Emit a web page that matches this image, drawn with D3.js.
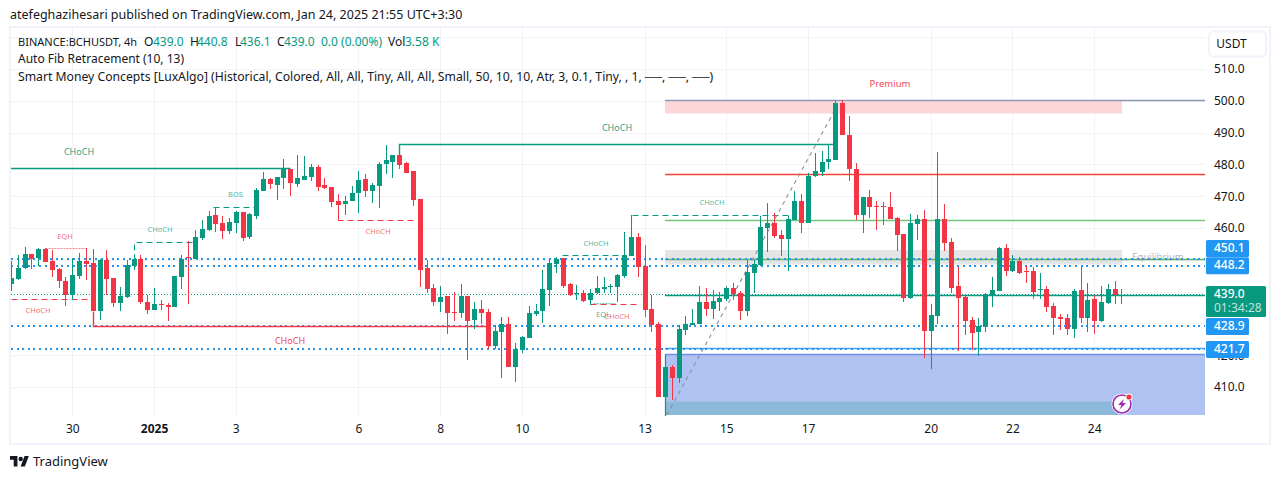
<!DOCTYPE html>
<html><head><meta charset="utf-8">
<script src="https://cdn.jsdelivr.net/npm/d3@7/dist/d3.min.js"></script>
<style>html,body{margin:0;padding:0;background:#fff;overflow:hidden}svg{display:block}
text{font-family:"Noto Sans",sans-serif}</style></head><body>
<script>
const openP=[442.3,443.9,447.3,451.7,450.5,453.3,449.5,447.0,443.3,438.9,444.8,449.5,448.9,433.8,449.9,444.2,436.3,438.2,448.0,450.2,436.7,434.1,436.0,435.7,435.1,444.5,450.8,450.2,456.8,459.3,464.0,461.5,459.0,461.5,464.9,457.1,463.7,471.5,475.3,473.4,475.6,478.4,473.7,475.2,475.9,479.1,473.4,472.8,468.4,467.4,468.4,470.9,475.3,471.5,473.1,480.0,480.9,482.8,480.3,477.8,469.0,447.3,441.1,436.7,438.5,433.5,433.2,438.5,431.0,434.5,433.5,422.8,427.2,429.8,416.2,421.6,425.4,432.9,433.8,440.4,448.6,450.5,442.3,439.2,439.5,437.3,439.5,440.7,441.3,441.4,444.8,451.1,457.1,448.0,434.5,429.7,406.8,416.2,412.8,427.9,429.4,429.7,436.7,434.5,436.7,437.6,441.1,439.5,433.8,445.8,448.3,459.9,461.5,457.7,456.4,462.4,468.4,461.5,476.2,477.5,480.6,481.3,499.2,489.4,478.7,464.0,469.6,466.8,466.8,466.5,463.0,458.0,437.9,461.2,462.7,427.6,432.3,462.7,455.5,441.7,438.2,431.0,427.2,428.8,438.9,440.1,453.6,446.4,449.5,446.4,446.4,440.4,440.7,435.4,431.9,431.6,428.2,440.4,431.6,437.6,430.7,436.3,440.7,439.0];
const highP=[449.5,451.4,453.9,451.7,453.6,453.8,453.0,447.3,444.5,450.5,452.0,453.6,453.3,450.2,453.0,444.2,441.4,449.9,450.5,451.4,438.9,441.1,437.3,436.3,444.8,451.4,455.8,459.3,462.4,465.2,466.5,463.7,463.0,465.2,464.9,464.6,472.5,477.5,475.6,475.9,481.6,478.7,483.1,482.5,480.0,479.7,475.6,472.8,470.6,470.0,473.1,477.8,476.9,474.3,480.6,486.0,483.1,486.3,480.9,477.8,469.0,449.9,442.3,441.7,438.5,439.8,442.3,438.5,436.7,437.3,434.5,429.4,432.0,432.0,423.8,426.0,435.4,436.0,446.7,450.5,450.8,450.5,442.6,442.0,440.4,440.7,444.8,444.5,442.3,445.5,458.6,464.0,458.3,454.6,438.9,430.4,416.2,416.9,429.4,432.3,434.5,441.7,441.1,440.4,439.8,441.7,442.6,440.1,449.8,449.8,463.7,467.8,464.6,459.3,463.7,471.5,470.6,477.2,483.5,484.1,486.3,499.8,500.4,495.1,480.3,469.9,472.1,468.4,468.1,471.2,463.4,458.0,464.3,464.0,465.6,436.0,483.8,467.4,456.8,447.7,438.9,431.9,431.6,439.5,444.5,453.9,454.9,451.4,450.8,448.0,447.7,445.8,441.7,436.3,432.9,432.9,440.7,447.7,442.6,438.9,441.7,442.3,443.3,440.8];
const lowP=[440.2,443.6,447.0,447.1,448.0,449.2,444.5,441.1,435.4,437.5,443.9,443.6,433.8,431.0,439.0,435.1,433.8,437.9,446.7,436.0,432.9,434.1,434.1,430.7,435.1,440.7,436.0,450.2,456.1,459.0,458.6,456.4,458.0,458.3,455.8,456.4,462.7,471.5,472.2,468.7,472.2,470.0,472.8,475.0,474.7,471.5,472.2,466.5,462.1,464.0,468.4,464.6,469.6,467.8,466.2,476.9,475.6,478.7,477.2,466.8,441.4,439.5,435.4,433.5,426.6,430.7,431.6,418.4,428.2,429.8,421.9,421.9,412.8,416.2,411.5,420.6,425.4,432.3,430.1,435.4,445.8,441.1,438.5,437.3,436.7,435.7,439.2,439.5,439.5,436.7,444.2,451.1,444.5,432.0,427.2,406.8,406.8,405.9,411.2,426.3,429.4,429.7,432.3,431.3,433.8,437.0,437.3,431.0,432.3,439.5,448.0,452.4,456.8,451.1,446.4,462.4,458.3,461.5,475.9,476.5,478.4,481.3,489.1,474.7,462.4,458.3,463.0,459.3,460.8,462.7,452.7,436.7,437.6,456.1,419.1,415.6,429.8,452.7,439.5,421.3,426.3,421.6,419.7,427.2,435.1,440.1,444.8,446.1,445.5,442.6,437.6,437.6,433.5,426.3,427.9,426.3,425.4,430.1,427.2,426.6,430.4,436.0,436.0,436.1];
const closeP=[444.2,447.3,451.7,450.1,453.3,449.2,446.7,443.3,439.0,445.1,449.5,448.6,433.8,449.9,443.9,436.3,438.5,448.3,450.2,436.7,434.1,436.0,435.7,435.2,444.8,450.2,450.5,457.1,459.6,463.7,461.2,459.0,461.8,464.9,456.8,464.3,471.8,475.3,473.7,475.9,478.7,474.0,475.6,476.2,479.1,472.8,472.5,468.1,467.1,468.4,470.9,475.0,471.5,473.4,480.0,481.3,483.1,479.7,477.2,468.7,446.7,440.7,436.7,438.2,433.2,433.2,438.5,430.7,434.5,433.2,422.8,427.6,429.8,416.2,421.9,425.7,433.2,433.8,440.7,448.9,450.2,441.7,438.9,439.5,437.0,439.5,441.1,441.4,441.7,445.1,451.4,457.1,447.7,434.2,429.4,406.8,416.2,412.8,428.2,429.7,430.1,436.7,434.5,437.0,437.9,441.1,439.2,433.8,446.1,448.6,460.2,461.5,457.4,456.4,462.7,468.4,461.5,476.5,477.8,480.9,481.6,499.2,489.1,478.4,464.0,469.6,466.5,466.5,466.5,462.7,457.7,437.9,461.5,462.7,427.6,432.6,462.7,455.2,441.1,437.9,430.7,426.9,429.2,439.2,440.4,453.6,446.4,449.5,445.7,446.1,439.8,440.7,435.1,431.6,431.3,428.2,440.1,431.6,437.3,430.7,436.7,440.7,438.9,439.0];

const gridLevels=[520,510,500,490,480,470,460,450,440,430,420,410];
const priceTicks=[510,500,490,480,470,460,420,410];
const dayTickIdx=[9,21,33,51,63,75,93,105,117,135,147,159];
const dayTickLabels=["30","2025","3","6","8","10","13","15","17","20","22","24"];

// overlays, in [candle index, price]
const solidGreen=[[[-3,478.8],[41,478.8]],[[57,483],[57,486.3],[121,486.3]]];
const dashGreen=[[[18,450],[18,455.5],[26.7,455.5]],[[29.6,466.5],[35.7,466.5]],[[80.9,451.4],[89.8,451.4]],[[91,458],[91,464.1],[114.1,464.1]]];
const dashRed=[[[-3,437.6],[12,437.6]],[[48,466],[48,462.5],[59.6,462.5]],[[85,436],[92.3,436]]];
const solidRed=[[[12,434],[12,429.1],[69.9,429.1]]];
const eqhDots=[[5,453.8],[11.2,453.8]];
const eqlDots=[[85.4,436.4],[88.7,436.4]];
const fibLine=[[96.26,401.2],[121.2,498.1]];
const blueDotLevels=[450.1,448.2,429.2,421.8];
const currentPrice=439.0;
const fibLevels=[
 {p:500.25,c:"#8f97b4",w:1.3},{p:476.9,c:"#f44336",w:1.3},{p:462.4,c:"#72c57a",w:1.3},
 {p:450.4,c:"#5fb85f",w:1.3},{p:438.8,c:"#089981",w:1.4},{p:422.2,c:"#42a5f5",w:1.3},{p:420.3,c:"#6f90e4",w:1.3}];
const zones=[
 {i0:96,i1:163.1,p0:500.25,p1:496,c:"#fbd7da"},
 {i0:96,i1:163.1,p0:453.1,p1:448.5,c:"#e4e5e7"},
 {i0:96,i1:176,p0:420.3,p1:401.2,c:"#b0c2f1"},
 {i0:96,i1:163.1,p0:405.4,p1:401.2,c:"#8cb8d9"}];
const boxLabels=[
 {t:"450.1",p:248.5},{t:"448.2",p:265.7},{t:"428.9",p:326.4},{t:"421.7",p:349.4}];
const smallTexts=[
 {t:"Premium",x:890,y:84,c:"#f23645",s:9.5,o:.95},
 {t:"CHoCH",x:617,y:129,c:"#089981",s:9,o:.95},
 {t:"CHoCH",x:79,y:152.5,c:"#089981",s:9,o:.95},
 {t:"CHoCH",x:290,y:341.5,c:"#f23645",s:9,o:.95},
 {t:"CHoCH",x:712,y:202.5,c:"#089981",s:7.5,o:.75},
 {t:"CHoCH",x:596,y:243.5,c:"#089981",s:7.5,o:.75},
 {t:"CHoCH",x:160,y:229.5,c:"#089981",s:7.5,o:.75},
 {t:"BOS",x:235.5,y:194.5,c:"#089981",s:7.5,o:.75},
 {t:"EQH",x:65,y:236.5,c:"#f23645",s:7.5,o:.75},
 {t:"CHoCH",x:38,y:310.5,c:"#f23645",s:7.5,o:.75},
 {t:"CHoCH",x:378,y:231.5,c:"#f23645",s:7.5,o:.75},
 {t:"EQL",x:603,y:314.5,c:"#089981",s:7.5,o:.75},
 {t:"CHoCH",x:617,y:316.5,c:"#f23645",s:7.5,o:.75},
 {t:"Equilibrium",x:1158,y:257.5,c:"#787b86",s:9.5,o:.6}];

const up="#089981",dn="#f23645",blue="#2196f3",ink="#131722",grid="#f2f3f6",frame="#f0f3fa";
const W=1281,H=479,L=11,R=1205,T=28,B=416;
const svg=d3.select("body").append("svg").attr("width",W).attr("height",H);
const x=d3.scaleLinear().domain([0,163]).range([11,1121.4]);
const y=d3.scaleLinear().domain([410,510]).range([387,69]);
const px=a=>Math.round(x(a)), py=a=>Math.round(y(a))+.5;
const pathOf=d3.line().x(d=>Math.round(x(d[0]))+.5).y(d=>Math.round(y(d[1]))+.5);

svg.append("clipPath").attr("id","plot").append("rect").attr("x",L).attr("y",T).attr("width",R-L).attr("height",B-T);
svg.append("rect").attr("x",10).attr("y",27).attr("width",1260).attr("height",417).attr("fill","none").attr("stroke",frame).attr("stroke-width",2);

const g=svg.append("g").attr("clip-path","url(#plot)");
// grid
g.append("g").selectAll("line").data(gridLevels).join("line")
 .attr("x1",L).attr("x2",R).attr("y1",d=>py(d)).attr("y2",d=>py(d)).attr("stroke",grid).attr("stroke-width",1);
g.append("g").selectAll("line").data(dayTickIdx).join("line")
 .attr("x1",d=>px(d)+.5).attr("x2",d=>px(d)+.5).attr("y1",T).attr("y2",B).attr("stroke",grid).attr("stroke-width",1);
// zones
g.append("g").selectAll("rect").data(zones).join("rect")
 .attr("x",d=>x(d.i0)).attr("width",d=>x(d.i1)-x(d.i0)).attr("y",d=>y(d.p0)).attr("height",d=>y(d.p1)-y(d.p0)).attr("fill",d=>d.c);
// fib levels
g.append("g").selectAll("line").data(fibLevels).join("line")
 .attr("x1",x(96)).attr("x2",R).attr("y1",d=>py(d.p)).attr("y2",d=>py(d.p)).attr("stroke",d=>d.c).attr("stroke-width",d=>d.w);
g.append("line").attr("x1",px(96)+.5).attr("x2",px(96)+.5).attr("y1",y(420.3)).attr("y2",B).attr("stroke",up).attr("stroke-width",1.2);
// dotted levels
g.append("g").selectAll("line").data(blueDotLevels).join("line")
 .attr("x1",L).attr("x2",R).attr("y1",d=>Math.round(y(d))).attr("y2",d=>Math.round(y(d))).attr("stroke",blue).attr("stroke-width",2).attr("stroke-dasharray","2 3.6").attr("shape-rendering","crispEdges");
g.append("line").attr("x1",L).attr("x2",R).attr("y1",py(currentPrice)-1).attr("y2",py(currentPrice)-1).attr("stroke",up).attr("stroke-width",1).attr("stroke-dasharray","1 2").attr("shape-rendering","crispEdges");
// structure
const draw=(arr,c,dash,w,op)=>g.append("g").selectAll("path").data(arr).join("path").attr("d",pathOf).attr("fill","none").attr("stroke",c).attr("stroke-width",w||1).attr("stroke-dasharray",dash||null).attr("stroke-opacity",op||1);
draw(solidGreen,up,null,1.4);draw(solidRed,dn,null,1.4);
draw(dashGreen,up,"6 4",1.1);draw(dashRed,dn,"6 4",1.1);
draw([eqhDots],dn,"2 1",1,.6);draw([eqlDots],up,"2 1",1,.6);
g.append("path").attr("d",d3.line().x(d=>x(d[0])).y(d=>y(d[1]))(fibLine)).attr("fill","none").attr("stroke","#8a8f99").attr("stroke-width",1.1).attr("stroke-dasharray","4 4");
// candles
const idx=d3.range(openP.length);
const cg=g.append("g").attr("shape-rendering","crispEdges");
cg.selectAll("line").data(idx).join("line")
 .attr("x1",i=>px(i)+.5).attr("x2",i=>px(i)+.5).attr("y1",i=>y(highP[i])).attr("y2",i=>y(lowP[i]))
 .attr("stroke",i=>closeP[i]>=openP[i]?up:dn).attr("stroke-width",1);
cg.selectAll("rect").data(idx).join("rect")
 .attr("x",i=>px(i)-2).attr("width",5)
 .attr("y",i=>y(Math.max(openP[i],closeP[i]))).attr("height",i=>Math.max(1,Math.abs(y(openP[i])-y(closeP[i]))))
 .attr("fill",i=>closeP[i]>=openP[i]?up:dn);
// in-chart texts
g.append("g").selectAll("text").data(smallTexts).join("text")
 .attr("x",d=>d.x).attr("y",d=>d.y).attr("text-anchor","middle").attr("dominant-baseline","middle")
 .attr("font-size",d=>d.s).attr("fill",d=>d.c).attr("fill-opacity",d=>d.o).text(d=>d.t);

// axes
const ay=d3.axisRight(y).tickValues(priceTicks).tickSize(0).tickPadding(0).tickFormat(d3.format(".1f"));
const gy=svg.append("g").attr("transform","translate(1214,0)").call(ay);
gy.select(".domain").remove();
gy.selectAll("text").attr("font-size",12).attr("fill",ink).attr("font-family",'"Noto Sans",sans-serif');
const ax=d3.axisBottom(x).tickValues(dayTickIdx).tickSize(0).tickPadding(0).tickFormat((d,i)=>dayTickLabels[i]);
const gx=svg.append("g").attr("transform","translate(0,424.5)").call(ax);
gx.select(".domain").remove();
gx.selectAll("text").attr("font-size",12).attr("fill",ink).attr("font-family",'"Noto Sans",sans-serif')
 .attr("font-weight",d=>d===21?700:400);

// price labels
boxLabels.forEach(d=>{
 svg.append("rect").attr("x",1206).attr("y",d.p-8.5).attr("width",43).attr("height",17).attr("rx",1.5).attr("fill",blue);
 svg.append("text").attr("x",1214).attr("y",d.p).attr("dominant-baseline","middle").attr("font-size",12).attr("font-weight",500).attr("fill","#fff").text(d.t);
});
svg.append("rect").attr("x",1206).attr("y",286).attr("width",60).attr("height",31).attr("rx",1.5).attr("fill",up);
svg.append("text").attr("x",1214).attr("y",295).attr("dominant-baseline","middle").attr("font-size",12).attr("font-weight",500).attr("fill","#fff").text("439.0");
svg.append("text").attr("x",1214).attr("y",309).attr("dominant-baseline","middle").attr("font-size",12).attr("fill","#fff").attr("fill-opacity",.75).text("01:34:28");
// USDT button
svg.append("rect").attr("x",1209).attr("y",31.5).attr("width",57).attr("height",25).attr("rx",4).attr("fill","#fff").attr("stroke",frame).attr("stroke-width",2);
svg.append("text").attr("x",1231.5).attr("y",44.5).attr("text-anchor","middle").attr("dominant-baseline","middle").attr("font-size",12).attr("fill",ink).text("USDT");

// header + legend
svg.append("text").attr("x",10).attr("y",19).attr("font-size",12.5).attr("fill",ink).text("atefeghazihesari published on TradingView.com, Jan 24, 2025 21:55 UTC+3:30");
const legend=[
 ["BINANCE:BCHUSDT, 4h",18,ink,11],["O",144,ink],["439.0",153,up],["H",190,ink],["440.8",197,up],["L",235,ink],["436.1",240,up],
 ["C",277,ink],["439.0",284,up],["0.0 (0.00%)",321,up],["Vol",388,ink],["3.58 K",405,up]];
legend.forEach(d=>svg.append("text").attr("x",d[1]).attr("y",46).attr("font-size",d[3]||12).attr("fill",d[2]).text(d[0]));
svg.append("text").attr("x",18).attr("y",63).attr("font-size",12).attr("fill",ink).text("Auto Fib Retracement (10, 13)");
svg.append("text").attr("x",18).attr("y",81).attr("font-size",12.2).attr("fill",ink).text("Smart Money Concepts [LuxAlgo] (Historical, Colored, All, All, Tiny, All, All, Small, 50, 10, 10, Atr, 3, 0.1, Tiny, , 1, ──, ──, ──)");

// lightning badge
const bd=svg.append("g").attr("transform","translate(1122,404)");
bd.append("circle").attr("r",10.5).attr("fill","#fff");
bd.append("circle").attr("r",9).attr("fill","#fff").attr("stroke","#9c27b0").attr("stroke-width",1.6);
bd.append("path").attr("d","M2,-5 L-4,1 L-0.5,1 L-2.5,5.5 L4,-1 L0.5,-1 Z").attr("fill","#9c27b0");
bd.append("circle").attr("cx",7).attr("cy",-7).attr("r",3.5).attr("fill","#fff");
bd.append("circle").attr("cx",7).attr("cy",-7).attr("r",2.6).attr("fill","#f23645");

// TradingView logo
svg.append("g").attr("transform","translate(10,456) scale(.53)").append("path")
 .attr("d","M14 20H7V7H0V0h14v20zM28 20h-8l7.5-20h8L28 20z").attr("fill",ink);
svg.append("circle").attr("cx",20.7).attr("cy",459).attr("r",2.2).attr("fill",ink);
svg.append("text").attr("x",33).attr("y",466).attr("font-size",13).attr("fill",ink).text("TradingView");
</script></body></html>
